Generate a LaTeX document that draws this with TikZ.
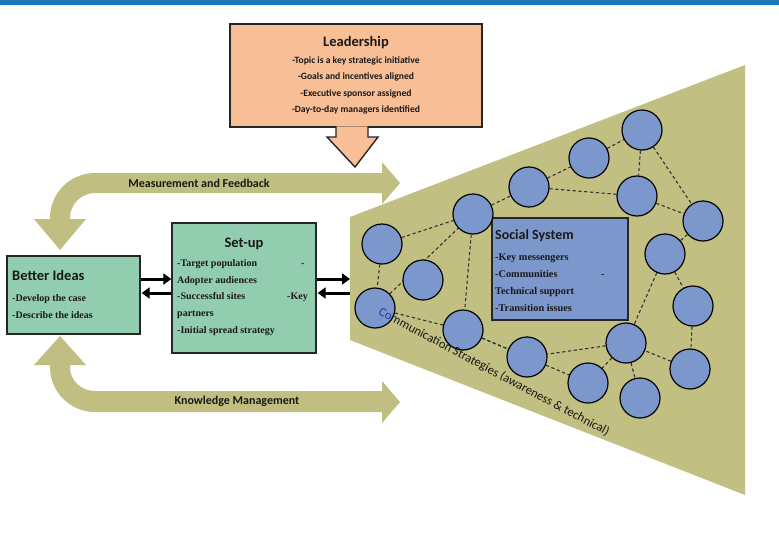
\documentclass[tikz,border=0pt]{standalone}
\usepackage{fontspec}
\setmainfont{Liberation Serif}
\newfontfamily\calfont{Carlito}
\usetikzlibrary{arrows.meta}
\pgfdeclarelayer{bglayer}
\pgfdeclarelayer{edgelayer}
\pgfsetlayers{bglayer,edgelayer,main}
\definecolor{topbar}{RGB}{26,122,184}
\definecolor{bandol}{RGB}{192,190,128}
\definecolor{coneol}{RGB}{193,191,130}
\definecolor{mintc}{RGB}{146,205,176}
\definecolor{peachc}{RGB}{248,190,150}
\definecolor{circc}{RGB}{124,151,203}
\definecolor{socc}{RGB}{124,151,203}
\definecolor{txtc}{RGB}{25,25,25}
\begin{document}
\begin{tikzpicture}[x=1pt,y=-1pt,
  greenbox/.style={draw=black!85, line width=1.3pt, fill=mintc, inner sep=0pt},
  circ/.style={circle, draw=black, line width=1.2pt, fill=circc, minimum size=40pt, inner sep=0pt},
  link/.style={draw=black!80, line width=1.1pt, dash pattern=on 3.2pt off 2.6pt},
  blkarr/.style={line width=3pt, -{Triangle[length=8pt,width=11pt]}},
  body/.style={font=\bfseries\fontsize{10}{11}\selectfont, anchor=base west, inner sep=0pt, text=txtc},
  title/.style={font=\calfont\bfseries\fontsize{14.5}{16}\selectfont, inner sep=0pt, text=txtc},
  lead/.style={font=\calfont\bfseries\fontsize{9.6}{10}\selectfont, anchor=base, inner sep=0pt, text=txtc},
  bandlabel/.style={font=\calfont\bfseries\fontsize{12}{13}\selectfont, inner sep=0pt, text=txtc}
]
\useasboundingbox (0,0) rectangle (779,542);

% ---------- background: bands and cone ----------
\begin{pgfonlayer}{bglayer}
\fill[white] (0,0) rectangle (779,542);
% top band (Measurement and Feedback)
\fill[bandol] (382,162) -- (400,183) -- (382,204) -- (382,193) -- (95,193)
  .. controls (81.2,193) and (70,204.2) .. (70,218) -- (70,219) -- (86,219)
  -- (60,250) -- (34,219) -- (50,219) -- (50,218)
  .. controls (50,193.1) and (70.1,173) .. (95,173) -- (382,173) -- cycle;
% bottom band (Knowledge Management)
\fill[bandol] (382,381) -- (400,402) -- (382,423) -- (382,412) -- (95,412)
  .. controls (70.1,412) and (50,391.9) .. (50,367) -- (50,365) -- (34,365)
  -- (60,336) -- (86,365) -- (70,365) -- (70,367)
  .. controls (70,380.8) and (81.2,391) .. (95,391) -- (382,391) -- cycle;
% cone
\fill[coneol] (350,217) -- (745,65) -- (745,495) -- (350,340) -- cycle;
\end{pgfonlayer}
\fill[topbar] (0,0) rectangle (779,5);

\node[bandlabel] (mf) at (199,183) {Measurement and Feedback};
\node[bandlabel] (km) at (237,401) {Knowledge Management};

% ---------- Leadership callout ----------
\node[draw=black!85, line width=1.4pt, fill=peachc, minimum width=252pt, minimum height=103pt, inner sep=0pt] (lead) at (356,75.5) {};
\filldraw[fill=peachc, draw=black!85, line width=1.4pt, line join=miter]
  (336,126.4) -- (336,137) -- (327,137) -- (355,167) -- (378,137) -- (368,137) -- (368,126.4);
\node[title, anchor=base] (leadt) at (356,46) {Leadership};
\node[lead] (l1) at (356,63) {-Topic is a key strategic initiative};
\node[lead] (l2) at (356,79.5) {-Goals and incentives aligned};
\node[lead] (l3) at (356,96) {-Executive sponsor assigned};
\node[lead] (l4) at (356,112.5) {-Day-to-day managers identified};

% ---------- Better Ideas ----------
\node[greenbox, minimum width=133pt, minimum height=78pt] (better) at (73.5,295) {};
\node[title, anchor=base west] (bt) at (12,280) {Better Ideas};
\node[body] (b1) at (12,301) {-Develop the case};
\node[body] (b2) at (12,318) {-Describe the ideas};

% ---------- Set-up ----------
\node[greenbox, minimum width=144pt, minimum height=130pt] (setup) at (244,288) {};
\node[title, anchor=base] (st) at (244,247) {Set-up};
\node[body] (s1) at (177,266) {-Target population};
\node[body] (s1b) at (301,266) {-};
\node[body] (s2) at (177,283) {Adopter audiences};
\node[body] (s3) at (177,299.5) {-Successful sites};
\node[body] (s3b) at (287,299.5) {-Key};
\node[body] (s4) at (177,316) {partners};
\node[body] (s5) at (177,333) {-Initial spread strategy};

% ---------- black arrows ----------
\coordinate (coneW) at (350,286);
\draw[blkarr] (better.east |- 0,279) -- (setup.west |- 0,279);
\draw[blkarr] (setup.west |- 0,293) -- ([xshift=1pt]better.east |- 0,293);
\draw[blkarr] (setup.east |- 0,279) -- (coneW |- 0,279);
\draw[blkarr] (coneW |- 0,293) -- ([xshift=1pt]setup.east |- 0,293);

% ---------- Social System ----------
\node[draw=black!85, line width=1.2pt, fill=socc, minimum width=136pt, minimum height=102pt, inner sep=0pt] (social) at (560,269) {};
\node[title, anchor=base west, font=\calfont\bfseries\fontsize{14}{16}\selectfont] (sst) at (495,239) {Social System};
\node[body, font=\bfseries\fontsize{10.3}{11}\selectfont] (so1) at (495,260) {-Key messengers};
\node[body, font=\bfseries\fontsize{10.3}{11}\selectfont] (so2) at (495,277) {-Communities};
\node[body, font=\bfseries\fontsize{10.3}{11}\selectfont] (so2b) at (601,277) {-};
\node[body, font=\bfseries\fontsize{10.3}{11}\selectfont] (so3) at (495,294) {Technical support};
\node[body, font=\bfseries\fontsize{10.3}{11}\selectfont] (so4) at (495,311) {-Transition issues};

% ---------- circles ----------
\node[circ] (c1) at (382,244) {};
\node[circ] (c2) at (423,280) {};
\node[circ] (c3) at (375,308) {};
\node[circ] (c4) at (473,214) {};
\node[circ] (c5) at (529,187) {};
\node[circ] (c6) at (589,158) {};
\node[circ] (c7) at (642,130) {};
\node[circ] (c8) at (637,196) {};
\node[circ] (c9) at (703,221) {};
\node[circ] (c10) at (665,254) {};
\node[circ] (c11) at (693,306) {};
\node[circ] (c12) at (690,369) {};
\node[circ] (c13) at (626,343) {};
\node[circ] (c14) at (640,398) {};
\node[circ] (c15) at (588,383) {};
\node[circ] (c16) at (527,357) {};
\node[circ] (c17) at (463,330) {};

\begin{pgfonlayer}{edgelayer}
\foreach \a/\b in {c1/c4, c1/c3, c3/c4, c4/c17, c3/c17, c4/c5, c5/c6, c5/c8,
  c6/c7, c7/c8, c7/c9, c8/c9, c9/c10, c10/c11, c10/c13, c11/c12, c12/c13,
  c13/c14, c13/c15, c13/c16, c17/c16, c17/c15}
  \draw[link] (\a) -- (\b);
\end{pgfonlayer}

% ---------- communication strategies ----------
\node[font=\calfont\fontsize{12.6}{13}\selectfont, rotate=-28, inner sep=0pt, text=txtc] (comm) at (494,372)
  {\textcolor[RGB]{40,60,170}{Co}mmunication Strategies (awareness \& technical)};
\end{tikzpicture}
\end{document}
